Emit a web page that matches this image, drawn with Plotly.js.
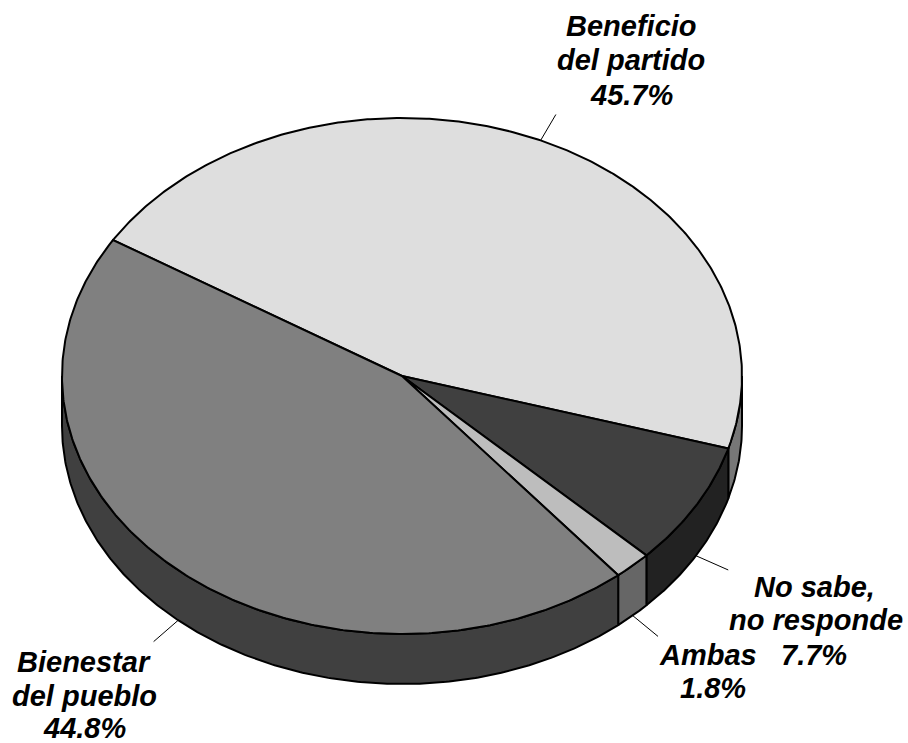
<!DOCTYPE html>
<html>
<head>
<meta charset="utf-8">
<script src="https://cdn.plot.ly/plotly-3.0.1.min.js"></script>
<style>html,body{margin:0;padding:0;background:#fff}#chart{width:908px;height:743px}</style>
</head>
<body>
<div id="chart"></div>
<script>
// Data (clockwise from the start angle)
const categories = ["Beneficio del partido", "No sabe, no responde", "Ambas", "Bienestar del pueblo"];
const values = [45.7, 7.7, 1.8, 44.8];
const labelLines = [["Beneficio", "del partido"], ["No sabe,", "no responde"], ["Ambas"], ["Bienestar", "del pueblo"]];

// Style and placement
const topColors = ["#dedede", "#404040", "#bdbdbd", "#808080"];
const wallColors = ["#777777", "#222222", "#666666", "#404040"];
const labelX = [[631, 631, 631], [814, 816, 814], [708, 713], [84, 84, 84]];
const labelBaseline = [[36, 70, 105], [597, 630, 665], [665, 698], [672, 706, 738]];
const cx = 402, cy = 376, rx = 340, ry = 258, depth = 50, startDeg = -58.2, leader = 0.11;

const total = values.reduce((a, b) => a + b, 0);
const px = t => cx + rx * Math.sin(t * Math.PI / 180);
const py = t => cy - ry * Math.cos(t * Math.PI / 180);
function arc(t1, t2) {
  const n = Math.max(2, Math.ceil(Math.abs(t2 - t1) * 2));
  const out = [];
  for (let i = 0; i <= n; i++) out.push(t1 + (t2 - t1) * i / n);
  return out;
}
const base = {type: "scatter", mode: "lines", fill: "toself", hoverinfo: "skip", showlegend: false};
const outline = {color: "#000", width: 2};
const walls = [], tops = [], leaders = [], annotations = [];
const font = {family: "Liberation Sans, Arial, sans-serif", size: 29, color: "#000"};

let angle = startDeg;
values.forEach((v, i) => {
  const a1 = angle, a2 = angle + v / total * 360;
  angle = a2;
  const mid = (a1 + a2) / 2;

  // top face
  const ts = arc(a1, a2);
  tops.push({...base, name: categories[i], fillcolor: topColors[i], line: outline,
    x: [cx, ...ts.map(px), cx], y: [cy, ...ts.map(py), cy]});

  // visible outer wall: front half of the rim only
  const w1 = Math.max(a1, 90), w2 = Math.min(a2, 270);
  if (w2 > w1) {
    const ws = arc(w1, w2), back = ws.slice().reverse();
    walls.push({...base, name: categories[i] + " (lado)", fillcolor: wallColors[i], line: outline,
      x: [...ws.map(px), ...back.map(px), px(w1)],
      y: [...ws.map(py), ...back.map(t => py(t) + depth), py(w1)]});
  }

  // leader line, leaving the pie at the slice's mid angle
  const off = (mid > 90 && mid < 270) ? depth : 0;
  const sx = px(mid), sy = py(mid) + off;
  leaders.push({type: "scatter", mode: "lines", hoverinfo: "skip", showlegend: false,
    line: {color: "#000", width: 1},
    x: [sx, sx + (sx - cx) * leader], y: [sy, sy + (py(mid) - cy) * leader]});

  // labels: one annotation per line, the last line being the percentage
  [...labelLines[i], v.toFixed(1) + "%"].forEach((line, k) => {
    annotations.push({x: labelX[i][k], y: labelBaseline[i][k] - 10, xref: "x", yref: "y", showarrow: false,
      text: "<b><i>" + line + "</i></b>", font, xanchor: "center", yanchor: "middle", borderpad: 0, borderwidth: 0});
  });
});

const hidden = {visible: false, fixedrange: true};
Plotly.newPlot("chart", [...leaders, ...walls, ...tops], {
  width: 908, height: 743,
  margin: {l: 0, r: 0, t: 0, b: 0},
  paper_bgcolor: "#fff", plot_bgcolor: "#fff",
  xaxis: {...hidden, range: [0, 908]},
  yaxis: {...hidden, range: [743, 0]},
  annotations
}, {displayModeBar: false, staticPlot: true});
</script>
</body>
</html>
